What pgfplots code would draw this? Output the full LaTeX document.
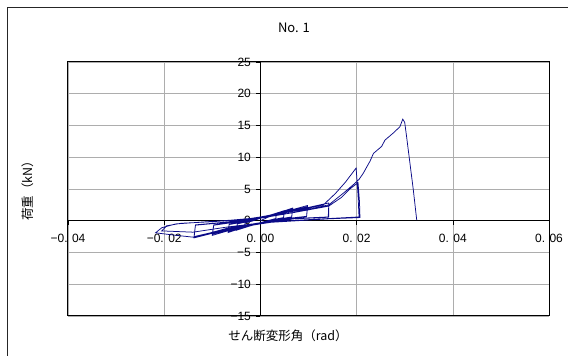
\documentclass[border=0pt]{standalone}
\usepackage{pgfplots}
\pgfplotsset{compat=1.18}
\usepackage{fontspec}
\setmainfont{Noto Sans CJK JP}
\newfontfamily\tickfont{Liberation Sans}
\definecolor{curve}{RGB}{10,10,135}
\begin{document}
\begin{tikzpicture}
\useasboundingbox (-68pt,-40pt) rectangle (500pt,316pt);
\draw[line width=1pt, black!85] (-60pt,-45pt) -- (-60pt,308pt) -- (505pt,308pt);
\begin{axis}[
  at={(0pt,0pt)}, anchor=south west,
  scale only axis, width=481pt, height=254pt,
  xmin=-0.04, xmax=0.06, ymin=-15, ymax=25,
  enlargelimits=false,
  scaled x ticks=false, scaled y ticks=false,
  axis lines*=middle,
  axis line style={black, line width=0.6pt},
  xtick={-0.04,-0.02,0,0.02,0.04,0.06},
  xticklabels={−0. 04,−0. 02,0. 00,0. 02,0. 04,0. 06},
  ytick={-15,-10,-5,0,5,10,15,20,25},
  yticklabels={−15,−10,−5,0,5,10,15,20,25},
  hide obscured x ticks=false, hide obscured y ticks=false,
  tick align=outside, major tick length=4pt,
  tick style={black, line width=0.6pt},
  grid=major,
  major grid style={black!32, line width=0.6pt},
  xticklabel style={font=\tickfont\fontsize{12}{13}\selectfont, anchor=north, yshift=-6pt},
  yticklabel style={font=\tickfont\fontsize{12}{13}\selectfont, anchor=east, xshift=-2pt},
  clip=false,
]
\addplot[curve, line width=0.75pt] coordinates {
(0,0) (0.0017,0.6) (0.0033,1.0) (0.0032,0.35) (0.0017,0.05) (0,-0.3) (-0.0017,-0.65) (-0.0033,-1.0) (-0.0032,-0.35) (-0.0017,-0.05) (0,0.4)
(0.0025,1.0) (0.005,1.6) (0.0048,0.5) (0.0025,0.15) (0,-0.35) (-0.0025,-0.9) (-0.005,-1.5) (-0.0048,-0.5) (-0.0025,-0.1) (0,0.5)
(0.0025,0.95) (0.005,1.5) (0.0048,0.45) (0.0025,0.1) (0,-0.4) (-0.0025,-0.85) (-0.005,-1.4) (-0.0048,-0.45) (-0.0025,-0.05) (0,0.5)
(0.0033,1.15) (0.0067,2.0) (0.0065,0.6) (0.0033,0.2) (0,-0.4) (-0.0033,-1.0) (-0.0067,-1.85) (-0.0065,-0.6) (-0.0033,-0.15) (0,0.55)
(0.0033,1.1) (0.0067,1.85) (0.0065,0.55) (0.0033,0.15) (0,-0.45) (-0.0033,-0.95) (-0.0067,-1.7) (-0.0065,-0.55) (-0.0033,-0.1) (0,0.55)
(0.005,1.4) (0.0098,2.4) (0.0096,0.7) (0.005,0.3) (0,-0.45) (-0.005,-1.2) (-0.01,-2.3) (-0.0097,-0.7) (-0.005,-0.2) (0,0.6)
(0.005,1.3) (0.0098,2.2) (0.0096,0.65) (0.005,0.25) (0,-0.5) (-0.005,-1.1) (-0.01,-2.1) (-0.0097,-0.65) (-0.005,-0.15) (0,0.6)
(0.007,1.6) (0.0142,2.8) (0.0142,0.6) (0.007,0.35) (0,-0.45) (-0.007,-1.4) (-0.0138,-2.7) (-0.0135,-0.7) (-0.007,-0.25) (0,0.6)
(0.007,1.5) (0.0142,2.3) (0.0141,0.55) (0.007,0.3) (0,-0.5) (-0.007,-1.3) (-0.0138,-2.5) (-0.0135,-0.65) (-0.007,-0.2) (0,0.6)
(0.007,1.5) (0.0131,2.5) (0.0156,4.3) (0.0177,6.1) (0.0192,7.6) (0.0199,8.3) (0.0203,4.0) (0.0205,0.6) (0.0142,0.35) (0.007,0.05) (0,-0.3) (-0.007,-1.2) (-0.0138,-2.6) (-0.0175,-2.3) (-0.0218,-1.9) (-0.0205,-1.1) (-0.0176,-0.5) (-0.012,-0.2) (-0.006,0.1) (0,0.5)
(0.007,1.3) (0.0142,2.3) (0.0169,3.7) (0.0186,5.0) (0.0203,6.0) (0.0206,3.0) (0.0207,0.5) (0.0142,0.3) (0,-0.35) (-0.007,-1.0) (-0.014,-1.8) (-0.0205,-1.6) (-0.0195,-0.8) (-0.0165,-0.4) (-0.01,-0.15) (0,0.4)
(0.007,1.3) (0.0142,2.5) (0.0175,4.5) (0.0195,5.8) (0.0205,6.5) (0.0214,7.5) (0.0228,9.4) (0.0235,10.6) (0.0252,11.7) (0.0259,12.7) (0.0276,13.8) (0.029,14.8) (0.0296,16.0) (0.0300,15.5) (0.0304,13.2) (0.0318,4.8) (0.0325,0.1)
};
\draw[black, line width=1pt] (rel axis cs:0,0) rectangle (rel axis cs:1,1);
\end{axis}
\node[font=\fontsize{13}{14}\selectfont] at (226pt,288pt) {No. 1};
\node[font=\fontsize{12.5}{14}\selectfont] at (220pt,-20pt) {せん断変形角（rad）};
\node[font=\fontsize{12.5}{14}\selectfont, rotate=90] at (-40pt,128pt) {荷重（kN）};
\end{tikzpicture}
\end{document}
